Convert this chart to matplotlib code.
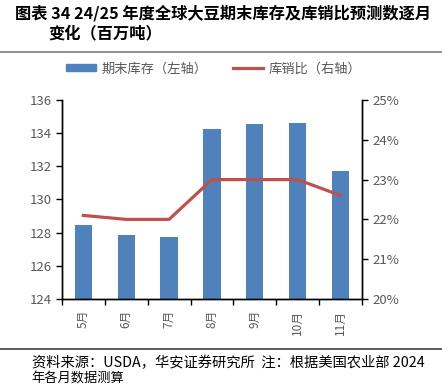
import numpy as np
import matplotlib.pyplot as plt
from matplotlib.lines import Line2D
from matplotlib.patches import Patch

plt.rcParams['font.family'] = ['Noto Sans CJK SC', 'DejaVu Sans']

months = ["5月", "6月", "7月", "8月", "9月", "10月", "11月"]
ending_stocks = [128.46, 127.86, 127.76, 134.27, 134.57, 134.63, 131.72]
stock_use_ratio = [22.1, 22.0, 22.0, 23.0, 23.0, 23.0, 22.6]

BAR_COLOR = "#4F81BD"
LINE_COLOR = "#C0504D"
GRAY = "#595959"

fig = plt.figure(figsize=(4.42, 3.85), dpi=100)
ax = fig.add_axes([0.140, 0.2234, 0.679, 0.5169])
ax2 = ax.twinx()

x = np.arange(len(months))
ax.bar(x, ending_stocks, width=0.4, color=BAR_COLOR, zorder=2)
ax.set_ylim(124, 136)
ax.set_yticks(np.arange(124, 137, 2))
ax.set_xlim(-0.5, len(months) - 0.5)
ax.set_xticks(x)
ax.set_xticklabels(months, rotation=90, color=GRAY, fontsize=8.5)
ax.set_xticks(np.arange(-0.5, len(months)), minor=True)
ax.tick_params(axis="x", which="major", length=0, pad=8)
ax.tick_params(axis="x", which="minor", length=4, width=1, direction="out")
ax.tick_params(axis="y", labelsize=9.5, labelcolor=GRAY, length=4, width=1, direction="out")

ax2.plot(x, stock_use_ratio, color=LINE_COLOR, linewidth=2.3, zorder=3)
ax2.set_ylim(20, 25)
ax2.set_yticks(np.arange(20, 26, 1))
ax2.set_yticklabels([f"{v}%" for v in range(20, 26)])
ax2.tick_params(axis="y", labelsize=9.5, labelcolor=GRAY, length=4, width=1, direction="out")

for a in (ax, ax2):
    a.spines["top"].set_visible(False)
    for s in ("left", "right", "bottom"):
        a.spines[s].set_color("black")
        a.spines[s].set_linewidth(1)

handles = [Patch(color=BAR_COLOR), Line2D([0], [0], color=LINE_COLOR, linewidth=2.3)]
fig.legend(handles, ["期末库存（左轴）", "库销比（右轴）"], loc="center",
           bbox_to_anchor=(0.483, 0.821), ncol=2, frameon=False, fontsize=9.5,
           labelcolor=GRAY, handlelength=2.3, handleheight=0.45, columnspacing=1.9,
           handletextpad=0.4)

fig.text(0.034, 0.966, "图表 34 24/25 年度全球大豆期末库存及库销比预测数逐月",
         fontsize=11.7, fontweight="bold", va="center", ha="left")
fig.text(0.109, 0.914, "变化（百万吨）", fontsize=11.7, fontweight="bold",
         va="center", ha="left")
fig.add_artist(Line2D([0, 1], [0.865, 0.865], color="#7f7f7f", linewidth=1.2,
                      transform=fig.transFigure))
fig.add_artist(Line2D([0, 1], [0.0935, 0.0935], color="#404040", linewidth=1.2,
                      transform=fig.transFigure))
fig.text(0.072, 0.058, "资料来源：USDA，华安证券研究所  注：根据美国农业部 2024",
         fontsize=10.3, va="center", ha="left")
fig.text(0.072, 0.019, "年各月数据测算", fontsize=9.5, va="center", ha="left")

fig.savefig("out.png", dpi=100)
